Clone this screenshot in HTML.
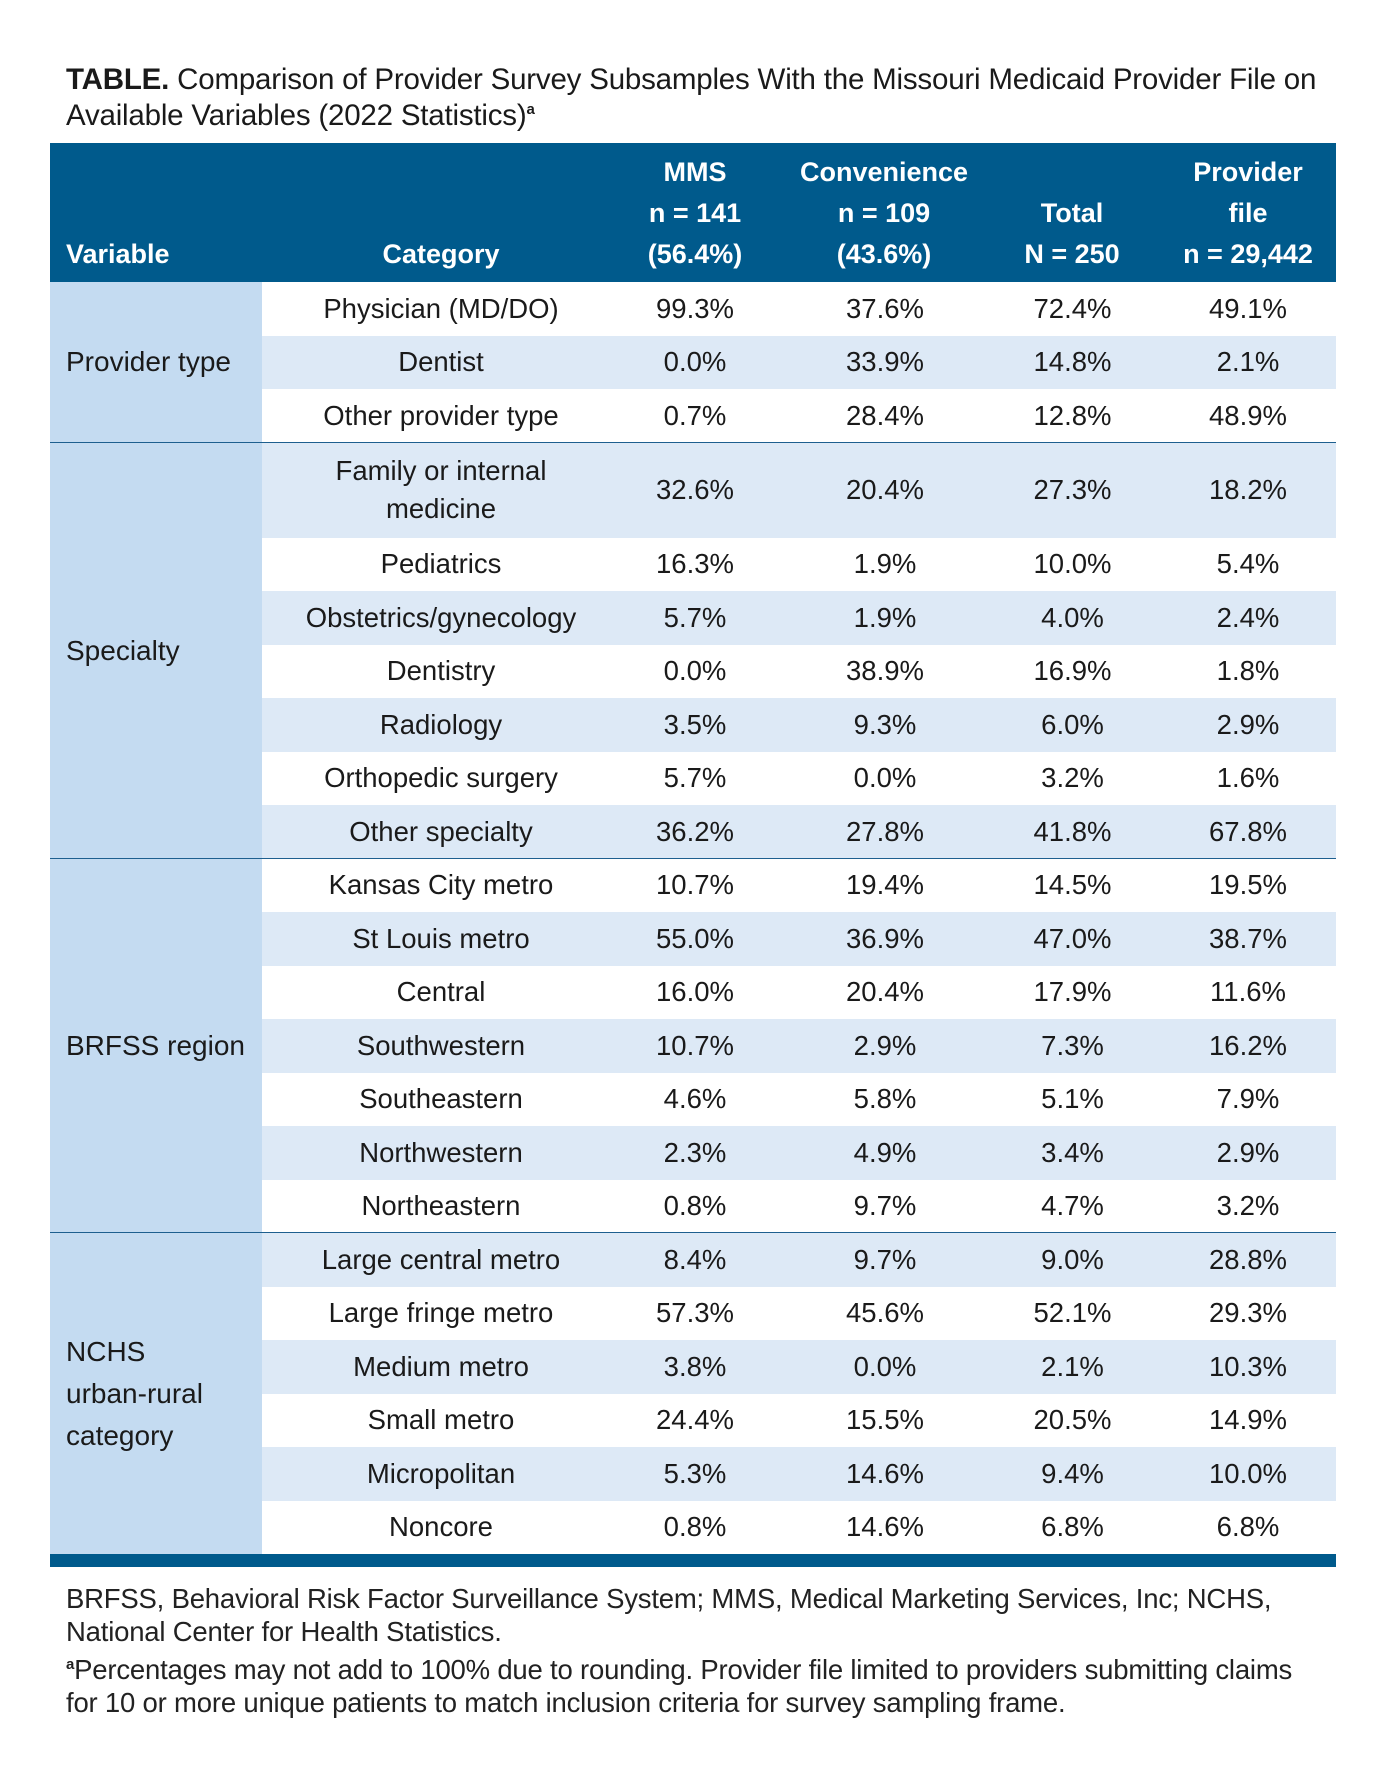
<!DOCTYPE html>
<html><head><meta charset="utf-8"><style>
body{margin:0;width:1386px;height:1782px;background:#fff;position:relative;font-family:"Liberation Sans",sans-serif;color:#1a1a1a;overflow:hidden}
.a{position:absolute}
.t{position:absolute;left:66px;font-size:29.5px;line-height:36px;letter-spacing:-0.2px;white-space:nowrap}
.c{position:absolute;display:flex;align-items:center;justify-content:center;text-align:center;font-size:27.5px;line-height:38px;letter-spacing:0;white-space:nowrap}
.h{color:#fff;font-weight:bold;font-size:27px;line-height:41px;position:absolute;text-align:center;white-space:nowrap}
.f{position:absolute;left:66px;font-size:27.5px;line-height:33px;color:#222;letter-spacing:-0.2px;white-space:nowrap}
sup{line-height:0}
</style></head><body>
<div class="t" style="top:62px"><b>TABLE.</b> Comparison of Provider Survey Subsamples With the Missouri Medicaid Provider File on</div>
<div class="t" style="top:98px">Available Variables (2022 Statistics)<sup style="font-size:15px;font-weight:bold">a</sup></div>
<div class="a" style="left:50px;top:143px;width:1286px;height:139px;background:#005a8c"></div>
<div class="h" style="left:66px;top:234px;text-align:left">Variable</div>
<div class="h" style="left:341px;width:200px;top:234px">Category</div>
<div class="h" style="left:595px;width:200px;top:152px">MMS<br>n = 141<br>(56.4%)</div>
<div class="h" style="left:764px;width:240px;top:152px">Convenience<br>n = 109<br>(43.6%)</div>
<div class="h" style="left:972px;width:200px;top:193px">Total<br>N = 250</div>
<div class="h" style="left:1148px;width:200px;top:152px">Provider<br>file<br>n = 29,442</div>
<div id="body"></div>
<div class="a" style="left:50px;top:1554px;width:1286px;height:13px;background:#005a8c"></div>
<div class="f" style="top:1582px">BRFSS, Behavioral Risk Factor Surveillance System; MMS, Medical Marketing Services, Inc; NCHS,<br>National Center for Health Statistics.</div>
<div class="f" style="top:1653px"><sup style="font-size:15px;font-weight:bold">a</sup>Percentages may not add to 100% due to rounding. Provider file limited to providers submitting claims<br>for 10 or more unique patients to match inclusion criteria for survey sampling frame.</div>
<script>
const groups=["Provider type","Specialty","BRFSS region","NCHS<br>urban-rural<br>category"];
const groupSizes=[3,7,7,6];
const categories=["Physician (MD/DO)","Dentist","Other provider type","Family or internal<br>medicine","Pediatrics","Obstetrics/gynecology","Dentistry","Radiology","Orthopedic surgery","Other specialty","Kansas City metro","St Louis metro","Central","Southwestern","Southeastern","Northwestern","Northeastern","Large central metro","Large fringe metro","Medium metro","Small metro","Micropolitan","Noncore"];
const mms=["99.3%","0.0%","0.7%","32.6%","16.3%","5.7%","0.0%","3.5%","5.7%","36.2%","10.7%","55.0%","16.0%","10.7%","4.6%","2.3%","0.8%","8.4%","57.3%","3.8%","24.4%","5.3%","0.8%"];
const conv=["37.6%","33.9%","28.4%","20.4%","1.9%","1.9%","38.9%","9.3%","0.0%","27.8%","19.4%","36.9%","20.4%","2.9%","5.8%","4.9%","9.7%","9.7%","45.6%","0.0%","15.5%","14.6%","14.6%"];
const total=["72.4%","14.8%","12.8%","27.3%","10.0%","4.0%","16.9%","6.0%","3.2%","41.8%","14.5%","47.0%","17.9%","7.3%","5.1%","3.4%","4.7%","9.0%","52.1%","2.1%","20.5%","9.4%","6.8%"];
const prov=["49.1%","2.1%","48.9%","18.2%","5.4%","2.4%","1.8%","2.9%","1.6%","67.8%","19.5%","38.7%","11.6%","16.2%","7.9%","2.9%","3.2%","28.8%","29.3%","10.3%","14.9%","10.0%","6.8%"];
const stripe=[0,1,0,1,0,1,0,1,0,1,0,1,0,1,0,1,0,1,0,1,0,1,0];
const B=document.getElementById('body');
const RH=53.5, TALL=95;
const cols=[[262,358],[620,150],[790,190],[990,165],[1160,176]];
function mk(cls,style,html){const d=document.createElement('div');d.className=cls;d.style.cssText=style;d.innerHTML=html;B.appendChild(d);return d;}
let y=282,idx=0;
groups.forEach((g,gi)=>{
  const top=y;
  for(let k=0;k<groupSizes[gi];k++){
    const h=(idx===3)?TALL:RH;
    const bg=mk('a',`left:262px;top:${y}px;width:1074px;height:${h}px;background:${stripe[idx]?'#dde9f6':'#fff'}`,'');
    
    
    const vals=[categories[idx],mms[idx],conv[idx],total[idx],prov[idx]];
    const names=['category','mms','convenience','total','provider-file'];
    vals.forEach((v,ci)=>{
      const c=mk('c',`left:${cols[ci][0]}px;top:${y}px;width:${ci==0?358:cols[ci][1]}px;height:${h}px`,v);
      
      
    });
    y+=h;idx++;
  }
  const v=mk('a',`left:50px;top:${top}px;width:212px;height:${y-top}px;background:#c4dbf1`,'');
  
  
  const l=mk('a',`left:66px;top:${top}px;height:${y-top}px;display:flex;align-items:center;font-size:28px;line-height:42px;white-space:nowrap`,g);
  
  
  if(gi<groups.length-1){
    const s=mk('a',`left:50px;top:${y-1}px;width:1286px;height:2px;background:#1d5f8f`,'');
    
    
  }
});
</script>
</body></html>
